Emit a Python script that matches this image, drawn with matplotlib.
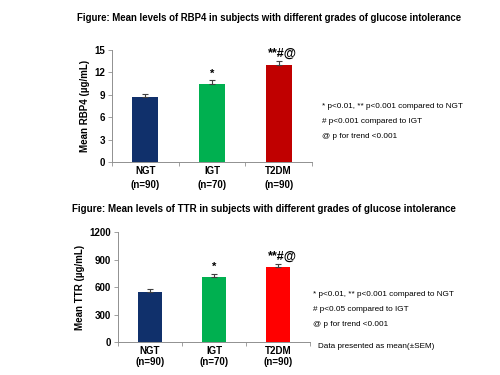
import matplotlib.pyplot as plt
import numpy as np

groups = ['NGT', 'IGT', 'T2DM']
group_n = ['(n=90)', '(n=70)', '(n=90)']

rbp4_mean = [8.7, 10.5, 13.0]
rbp4_sem = [0.35, 0.45, 0.45]
rbp4_sig = ['', '*', '**#@']
rbp4_ticks = [0, 3, 6, 9, 12, 15]

ttr_mean = [543, 715, 822]
ttr_sem = [32, 32, 33]
ttr_sig = ['', '*', '**#@']
ttr_ticks = [0, 300, 600, 900, 1200]

rbp4_colors = ['#10306b', '#00b050', '#c00000']
ttr_colors = ['#10306b', '#00b050', '#ff0000']

rbp4_notes = ['* p<0.01, ** p<0.001 compared to NGT',
              '# p<0.001 compared to IGT',
              '@ p for trend <0.001']
ttr_notes = ['* p<0.01, ** p<0.001 compared to NGT',
             '# p<0.05 compared to IGT',
             '@ p for trend <0.001']

FONT = ['Liberation Sans Narrow', 'Liberation Sans', 'DejaVu Sans']
plt.rcParams['font.family'] = FONT


def draw_panel(ax, means, sems, sig, colors, ticks, ylabel, lsp):
    x = np.arange(len(means))
    ax.bar(x, means, width=0.39, color=colors, zorder=2)
    ax.errorbar(x, means, yerr=[np.zeros(len(sems)), sems], fmt='none',
                ecolor='#404040', elinewidth=0.8, capsize=2, capthick=0.8, zorder=3)
    for xi, m, s, t in zip(x, means, sems, sig):
        if t:
            ax.annotate(t, (xi, m + s), xytext=(3 if len(t) > 1 else 0, 1),
                        textcoords='offset points', ha='center', va='bottom',
                        fontsize=9 if len(t) > 1 else 8, fontweight='bold')
    ax.set_xlim(-0.5, len(means) - 0.5)
    ax.set_ylim(ticks[0], ticks[-1])
    ax.set_yticks(ticks)
    ax.set_yticklabels([str(t) for t in ticks], fontsize=7, fontweight='bold')
    ax.set_xticks(x)
    ax.set_xticklabels([g + '\n' + n for g, n in zip(groups, group_n)],
                       fontsize=7, fontweight='bold', linespacing=lsp)
    ax.set_xticks(np.arange(len(means) + 1) - 0.5, minor=True)
    ax.tick_params(axis='x', which='major', length=0, pad=3)
    ax.tick_params(axis='x', which='minor', length=3, color='#909090', width=0.6)
    ax.tick_params(axis='y', length=3, color='#909090', width=0.6, pad=2)
    for sp in ['top', 'right']:
        ax.spines[sp].set_visible(False)
    for sp in ['left', 'bottom']:
        ax.spines[sp].set_color('#909090')
        ax.spines[sp].set_linewidth(0.7)
    ax.set_ylabel(ylabel, fontsize=7, fontweight='bold', labelpad=3)


fig = plt.figure(figsize=(5, 3.75), dpi=100)

ax1 = fig.add_axes([0.224, 0.568, 0.4, 0.299])
draw_panel(ax1, rbp4_mean, rbp4_sem, rbp4_sig, rbp4_colors, rbp4_ticks,
           'Mean RBP4 (µg/mL)', 1.5)
ax2 = fig.add_axes([0.236, 0.088, 0.384, 0.293])
draw_panel(ax2, ttr_mean, ttr_sem, ttr_sig, ttr_colors, ttr_ticks,
           'Mean TTR (µg/mL)', 1.1)

fig.text(269 / 500, 1 - 18 / 375, 'Figure: Mean levels of RBP4 in subjects with different grades of glucose intolerance',
         ha='center', va='center', fontsize=6.9, fontweight='bold')
fig.text(264 / 500, 1 - 209 / 375, 'Figure: Mean levels of TTR in subjects with different grades of glucose intolerance',
         ha='center', va='center', fontsize=7.0, fontweight='bold')

for i, t in enumerate(rbp4_notes):
    fig.text(322 / 500, 1 - (107 + 15 * i) / 375, t, ha='left', va='center', fontsize=5.9)
for i, t in enumerate(ttr_notes):
    fig.text(313 / 500, 1 - (295 + 14.5 * i) / 375, t, ha='left', va='center', fontsize=5.9)
fig.text(318 / 500, 1 - 346 / 375, 'Data presented as mean(±SEM)', ha='left', va='center', fontsize=5.9)

fig.savefig('out.png', dpi=100)
